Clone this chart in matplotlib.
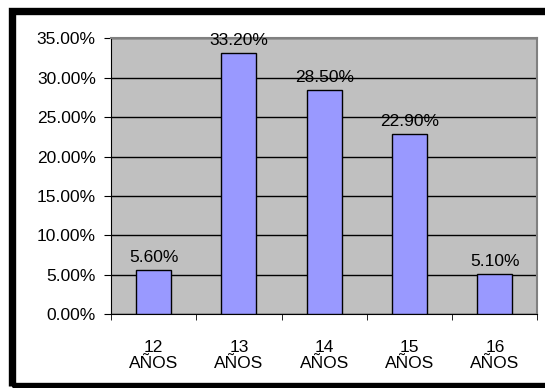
import matplotlib.pyplot as plt
from matplotlib.patches import Rectangle

plt.rcParams['font.family'] = 'Liberation Sans'
plt.rcParams['font.size'] = 12.5

categories = ['12\nAÑOS', '13\nAÑOS', '14\nAÑOS', '15\nAÑOS', '16\nAÑOS']
values = [5.6, 33.2, 28.5, 22.9, 5.1]
yticks = [0, 5, 10, 15, 20, 25, 30, 35]

fig = plt.figure(figsize=(5.45, 3.88), dpi=100)
ax = fig.add_axes([0.2037, 0.1907, 0.7825, 0.7101])
ax.set_facecolor('#C0C0C0')

x = list(range(len(values)))
ax.bar(x, values, width=0.41, color='#9999FF', edgecolor='black', linewidth=1, zorder=3)
for xi, v in zip(x, values):
    ax.annotate(f'{v:.2f}%', (xi, v), xytext=(0, 5), textcoords='offset pixels',
                ha='center', va='bottom', zorder=4)

ax.set_xlim(-0.5, len(values) - 0.5)
ax.set_ylim(0, 35)
ax.set_yticks(yticks)
ax.set_yticklabels([f'{t:.2f}%' for t in yticks])
ax.yaxis.grid(True, color='black', linewidth=1)
ax.set_axisbelow(True)

ax.set_xticks(x)
ax.set_xticklabels(categories, linespacing=1.1)
ax.set_xticks([i + 0.5 for i in range(-1, len(values))], minor=True)
ax.tick_params(axis='x', which='major', length=0, pad=18.5)
ax.tick_params(axis='x', which='minor', length=4, direction='out', color='black')
ax.tick_params(axis='y', length=5, direction='out', pad=6)

for s in ['left', 'bottom']:
    ax.spines[s].set_color('black')
for s in ['top', 'right']:
    ax.spines[s].set_color('#808080')
    ax.spines[s].set_linewidth(1.5)

# black frame around the chart (right edge cut off)
fig.patches.append(Rectangle((11.5 / 545, 2.5 / 388), 1.2, 375 / 388,
                             transform=fig.transFigure, fill=False,
                             edgecolor='black', linewidth=5.3))

fig.savefig('out.png', dpi=100)
